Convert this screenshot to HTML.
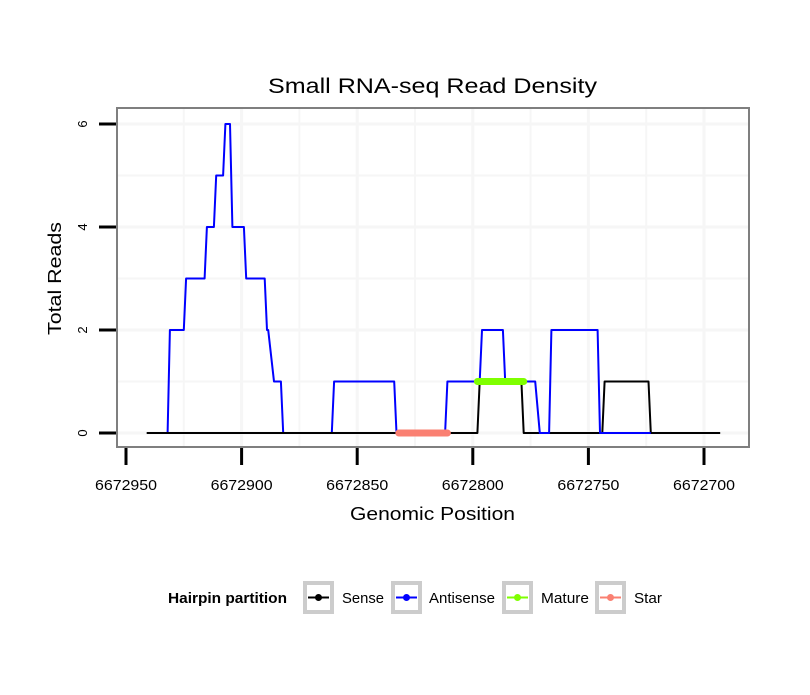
<!DOCTYPE html>
<html><head><meta charset="utf-8"><style>
body{margin:0;background:#fff;}
svg text{font-family:"Liberation Sans",sans-serif;}
</style></head><body>
<svg id="chart" width="810" height="690" xmlns="http://www.w3.org/2000/svg">
<rect width="810" height="690" fill="#fff"/>
<text x="268" y="93" font-size="21" textLength="329" lengthAdjust="spacingAndGlyphs">Small RNA-seq Read Density</text>
<g id="grid"></g>
<g id="series"></g>
<rect x="117" y="108" width="632" height="339" fill="none" stroke="#7f7f7f" stroke-width="2"/>
<g id="axes"></g>
<text x="350" y="520" font-size="18" textLength="165" lengthAdjust="spacingAndGlyphs">Genomic Position</text>
<text transform="translate(61,335) rotate(-90)" font-size="18" textLength="113" lengthAdjust="spacingAndGlyphs">Total Reads</text>
<g>
<text x="168" y="603" font-size="15" font-weight="bold" textLength="119" lengthAdjust="spacingAndGlyphs">Hairpin partition</text>
<g><rect x="305" y="583" width="27" height="29" fill="#fff" stroke="#ccc" stroke-width="4"/><line x1="308" y1="597.5" x2="329" y2="597.5" stroke="#000" stroke-width="2"/><circle cx="318.5" cy="597.5" r="3.5" fill="#000"/><text x="342" y="603" font-size="15" textLength="42" lengthAdjust="spacingAndGlyphs">Sense</text></g>
<g><rect x="393" y="583" width="27" height="29" fill="#fff" stroke="#ccc" stroke-width="4"/><line x1="396" y1="597.5" x2="417" y2="597.5" stroke="#00f" stroke-width="2"/><circle cx="406.5" cy="597.5" r="3.5" fill="#00f"/><text x="429" y="603" font-size="15" textLength="66" lengthAdjust="spacingAndGlyphs">Antisense</text></g>
<g><rect x="504" y="583" width="27" height="29" fill="#fff" stroke="#ccc" stroke-width="4"/><line x1="507" y1="597.5" x2="528" y2="597.5" stroke="#7fff00" stroke-width="2"/><circle cx="517.5" cy="597.5" r="3.5" fill="#7fff00"/><text x="541" y="603" font-size="15" textLength="48" lengthAdjust="spacingAndGlyphs">Mature</text></g>
<g><rect x="597" y="583" width="27" height="29" fill="#fff" stroke="#ccc" stroke-width="4"/><line x1="600" y1="597.5" x2="621" y2="597.5" stroke="#fa8072" stroke-width="2"/><circle cx="610.5" cy="597.5" r="3.5" fill="#fa8072"/><text x="634" y="603" font-size="15" textLength="28" lengthAdjust="spacingAndGlyphs">Star</text></g>
</g>
</svg>
<script>
const xTicks = [6672950, 6672900, 6672850, 6672800, 6672750, 6672700];
const yTicks = [0, 2, 4, 6];
const senseX = [6672941, 6672798, 6672797, 6672779, 6672778, 6672744, 6672743, 6672724, 6672723, 6672693];
const senseY = [0, 0, 1, 1, 0, 0, 1, 1, 0, 0];
const antisenseX = [6672932, 6672931, 6672925, 6672924, 6672916, 6672915, 6672912, 6672911, 6672908, 6672907, 6672905, 6672904, 6672899, 6672898, 6672890, 6672889, 6672888.5, 6672886, 6672883, 6672882, 6672861, 6672860, 6672834, 6672833, 6672812, 6672811, 6672797, 6672796, 6672787, 6672786, 6672773, 6672771, 6672767, 6672766, 6672746, 6672745, 6672723];
const antisenseY = [0, 2, 2, 3, 3, 4, 4, 5, 5, 6, 6, 4, 4, 3, 3, 2, 2, 1, 1, 0, 0, 1, 1, 0, 0, 1, 1, 2, 2, 1, 1, 0, 0, 2, 2, 0, 0];
const matureX = [6672798, 6672778];
const matureY = [1, 1];
const starX = [6672832, 6672811];
const starY = [0, 0];

const NS = "http://www.w3.org/2000/svg";
function xs(v){ return 126 + (6672950 - v) * 2.312; }
function ys(v){ return 433 - v * 51.5; }
function mk(tag, attrs, parent){ const e = document.createElementNS(NS, tag); for (const k in attrs) e.setAttribute(k, attrs[k]); parent.appendChild(e); return e; }

const grid = document.getElementById('grid');
for (let v = 0; v <= 6; v++) {
  const gl = mk('line', {x1:117, x2:749, y1:ys(v), y2:ys(v), stroke:'#f6f6f6', 'stroke-width': v % 2 ? 2 : 3}, grid);
  
  
}
for (let v = 6672925; v >= 6672700; v -= 25) {
  const gl = mk('line', {x1:xs(v), x2:xs(v), y1:108, y2:447, stroke:'#f6f6f6', 'stroke-width': v % 50 ? 2 : 3}, grid);
  
  
}

const series = document.getElementById('series');
function line(X, Y, color, w, name){
  const pts = X.map((x, i) => xs(x).toFixed(1) + ',' + ys(Y[i]).toFixed(1)).join(' ');
  const p = mk('polyline', {points: pts, fill:'none', stroke: color, 'stroke-width': w, 'stroke-linecap': w > 3 ? 'round' : 'butt', 'stroke-linejoin':'round'}, series);
  
  
}
line(senseX, senseY, '#000', 2, 'sense-line');
line(antisenseX, antisenseY, '#00f', 2, 'antisense-line');
line(senseX.slice(0, 2), senseY.slice(0, 2), '#000', 2, 'sense-line-overlay');
line(matureX, matureY, '#7fff00', 7, 'mature-segment');
line(starX, starY, '#fa8072', 7, 'star-segment');

const axes = document.getElementById('axes');
xTicks.forEach(v => {
  const t = mk('line', {x1:xs(v), x2:xs(v), y1:448, y2:465, stroke:'#000', 'stroke-width':3}, axes);
  
  
  const l = mk('text', {x:xs(v), y:490, 'font-size':15, 'text-anchor':'middle', textLength:62, lengthAdjust:'spacingAndGlyphs'}, axes);
  l.textContent = v;
  
  
});
yTicks.forEach(v => {
  const t = mk('line', {x1:99, x2:116, y1:ys(v), y2:ys(v), stroke:'#000', 'stroke-width':3}, axes);
  
  
  const l = mk('text', {transform:'translate(87,' + ys(v) + ') rotate(-90)', 'font-size':13, 'text-anchor':'middle'}, axes);
  l.textContent = v;
  
  
});
</script>
</body></html>
